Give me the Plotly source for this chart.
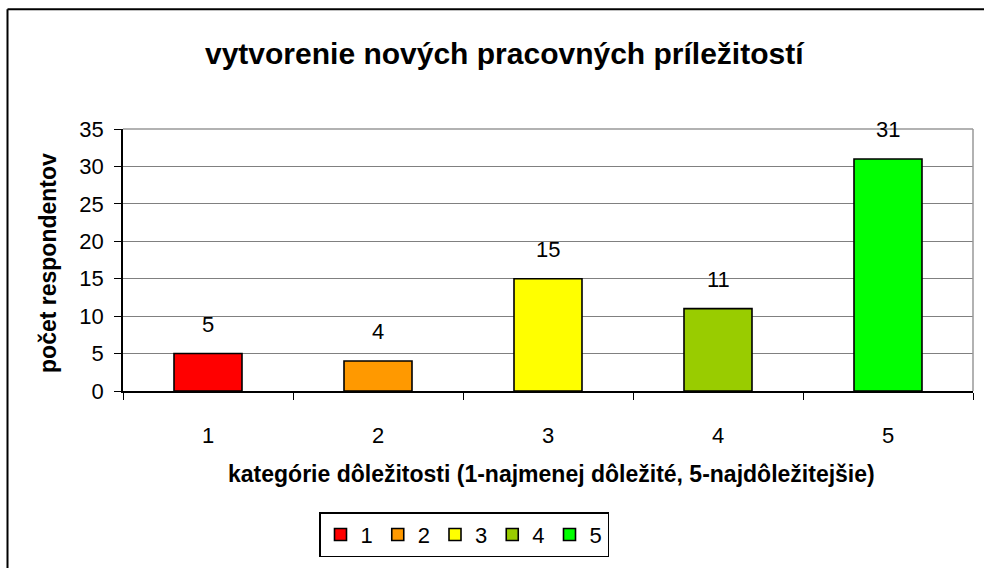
import plotly.graph_objects as go

# Data
categories = ["1", "2", "3", "4", "5"]
respondents = [5, 4, 15, 11, 31]
bar_colors = ["#FF0000", "#FF9900", "#FFFF00", "#99CC00", "#00FF00"]
y_ticks = [0, 5, 10, 15, 20, 25, 30, 35]

title_text = "vytvorenie nových pracovných príležitostí"
x_title = "kategórie dôležitosti (1-najmenej dôležité, 5-najdôležitejšie)"
y_title = "počet respondentov"

FONT = "Liberation Sans, Arial, sans-serif"

# Plot area geometry (pixels)
W, H = 984, 568
L, R, T, B = 123, 973, 129, 395
pw, ph = R - L, B - T


def px_x(px):
    return (px - L) / pw


def px_y(py):
    return (B - py) / ph


fig = go.Figure()
for i, (cat, val, col) in enumerate(zip(categories, respondents, bar_colors)):
    fig.add_trace(go.Bar(
        x=[cat], y=[val], name=cat, width=0.4,
        marker=dict(color=col, line=dict(color="#000000", width=1.6)),
        hoverinfo="x+y",
    ))
    # value label above the bar (category axis position = index)
    fig.add_annotation(
        x=i, y=val, text=str(val), showarrow=False,
        xref="x", yref="y", yanchor="bottom", yshift=15,
        font=dict(family=FONT, size=22, color="#000000"),
    )

# Outer chart frame (left and top edges visible)
fig.add_shape(type="line", xref="paper", yref="paper",
              x0=px_x(7.5), y0=px_y(7.5), x1=px_x(7.5), y1=px_y(600),
              line=dict(color="#000000", width=2))
fig.add_shape(type="line", xref="paper", yref="paper",
              x0=px_x(7.5), y0=px_y(7.5), x1=px_x(1000), y1=px_y(7.5),
              line=dict(color="#000000", width=2))

# Gray top/right border of plot area
fig.add_shape(type="line", xref="paper", yref="paper", x0=0, y0=1, x1=1, y1=1,
              line=dict(color="#999999", width=1.5))
fig.add_shape(type="line", xref="paper", yref="paper", x0=1, y0=0, x1=1, y1=1,
              line=dict(color="#999999", width=1.5))

fig.add_annotation(
    x=px_x(505), y=px_y(52), xref="paper", yref="paper",
    xanchor="center", yanchor="middle",
    text="<b>" + title_text + "</b>", showarrow=False,
    font=dict(family=FONT, size=30, color="#000000"),
)
fig.add_annotation(
    x=px_x(551), y=px_y(479), xref="paper", yref="paper",
    xanchor="center", yanchor="middle",
    text="<b>" + x_title + "</b>", showarrow=False,
    font=dict(family=FONT, size=23, color="#000000"),
)
fig.add_annotation(
    x=px_x(48), y=px_y(265), xref="paper", yref="paper",
    xanchor="center", yanchor="middle",
    text="<b>" + y_title + "</b>", showarrow=False, textangle=-90,
    font=dict(family=FONT, size=23, color="#000000"),
)

fig.update_layout(
    width=W, height=H,
    margin=dict(l=L, r=W - R, t=T, b=H - B, pad=0),
    paper_bgcolor="#FFFFFF", plot_bgcolor="#FFFFFF",
    barmode="overlay",
    showlegend=True,
    legend=dict(
        orientation="h", x=px_x(319), y=px_y(518), xanchor="left", yanchor="top",
        bordercolor="#000000", borderwidth=1.5, bgcolor="#FFFFFF",
        font=dict(family=FONT, size=22, color="#000000"),
        itemwidth=30, tracegroupgap=0,
    ),
    xaxis=dict(
        type="category", categoryorder="array", categoryarray=categories,
        tickson="boundaries", ticks="outside", ticklen=7, tickcolor="#000000",
        showline=True, linecolor="#000000", linewidth=1.5,
        showgrid=False, zeroline=False, ticklabelstandoff=24,
        tickfont=dict(family=FONT, size=22, color="#000000"),
        range=[-0.5, 4.5],
    ),
    yaxis=dict(
        range=[0, 35], tickvals=y_ticks, ticks="outside", ticklen=7,
        tickcolor="#000000", showline=True, linecolor="#000000", linewidth=1.5,
        showgrid=True, gridcolor="#808080", gridwidth=1.2, zeroline=False,
        ticklabelstandoff=6,
        tickfont=dict(family=FONT, size=22, color="#000000"),
    ),
)

fig.write_html("out.html")
